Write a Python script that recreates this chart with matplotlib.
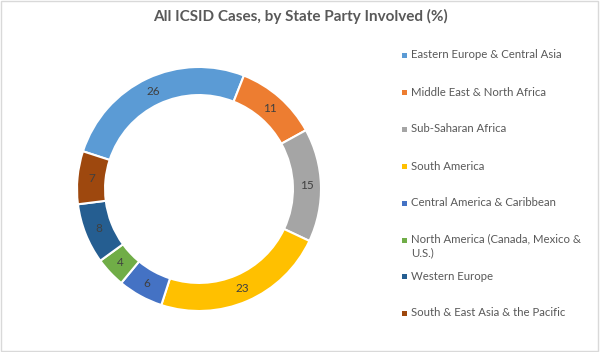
import matplotlib
matplotlib.use("Agg")
import matplotlib.pyplot as plt
import numpy as np
from matplotlib.patches import Rectangle

plt.rcParams["font.family"] = ["Lato", "DejaVu Sans"]

regions = [
    "Eastern Europe & Central Asia",
    "Middle East & North Africa",
    "Sub-Saharan Africa",
    "South America",
    "Central America & Caribbean",
    "North America (Canada, Mexico &\nU.S.)",
    "Western Europe",
    "South & East Asia & the Pacific",
]
shares = [26, 11, 15, 23, 6, 4, 8, 7]
colors = ["#5B9BD5", "#ED7D31", "#A5A5A5", "#FFC000",
          "#4472C4", "#70AD47", "#255E91", "#9E480E"]

W, H = 600, 352
fig = plt.figure(figsize=(6, 3.52), dpi=100)
fig.patches.append(Rectangle((0.002, 0.002), 0.995, 0.994, transform=fig.transFigure,
                             fill=False, ec="#D9D9D9", lw=1))

# donut centred at (199, 189) px, outer radius ~122 px
cx, cy, r = 199, 189, 122
ax = fig.add_axes([(cx - r) / W, (H - cy - r) / H, 2 * r / W, 2 * r / H])
wedges, _ = ax.pie(shares, colors=colors, startangle=162, counterclock=False,
                   radius=1, wedgeprops=dict(width=0.23, edgecolor="white", linewidth=1.5))
for w, v in zip(wedges, shares):
    ang = np.deg2rad((w.theta1 + w.theta2) / 2)
    ax.text(0.885 * np.cos(ang), 0.885 * np.sin(ang), str(v), ha="center", va="center",
            fontsize=8.5, color="#404040")
ax.set_xlim(-1, 1)
ax.set_ylim(-1, 1)
ax.set_aspect("auto")
ax.axis("off")

fig.text(300 / W, 1 - 16 / H, "All ICSID Cases, by State Party Involved (%)",
         ha="center", va="center", fontsize=11, fontweight="bold", color="#595959")

# legend, laid out like the original
ys = [55, 92, 129, 166, 203, 240, 276, 313]
for lab, col, y in zip(regions, colors, ys):
    fig.patches.append(Rectangle((402 / W, 1 - (y + 2.5) / H), 5 / W, 5 / H,
                                 transform=fig.transFigure, fc=col, ec="none"))
    if "\n" in lab:
        fig.text(411 / W, 1 - (y - 6.5) / H, lab, ha="left", va="top",
                 fontsize=8.2, color="#595959", linespacing=1.3)
    else:
        fig.text(411 / W, 1 - y / H, lab, ha="left", va="center",
                 fontsize=8.2, color="#595959")

fig.savefig("out.png", dpi=100)
